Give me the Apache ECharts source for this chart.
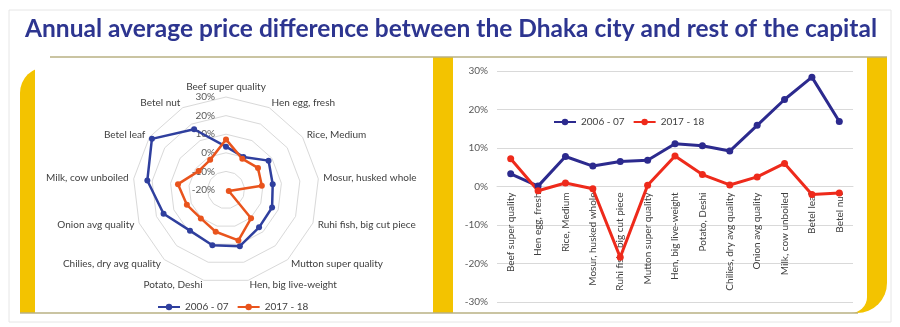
<!DOCTYPE html>
<html><head><meta charset="utf-8">
<script src="https://cdn.jsdelivr.net/npm/echarts@6/dist/echarts.min.js"></script>
<style>html,body{margin:0;padding:0;background:#fff}#c{width:900px;height:327px}</style>
</head><body><div id="c"></div>
<script>
const titleText = 'Annual average price difference between the Dhaka city and rest of the capital';
const categories = ['Beef super quality','Hen egg, fresh','Rice, Medium','Mosur, husked whole','Ruhi fish, big cut piece','Mutton super quality','Hen, big live-weight','Potato, Deshi','Chilies, dry avg quality','Onion avg quality','Milk, cow unboiled','Betel leaf','Betel nut'];
const seriesNames = ['2006 - 07','2017 - 18'];
const values2006 = [3.3,0.1,7.8,5.3,6.5,6.8,11.1,10.6,9.2,15.9,22.6,28.4,16.9];
const values2017 = [7.2,-1.1,0.9,-0.6,-18.4,0.3,7.9,3.1,0.4,2.5,6.0,-2.1,-1.7];
const lineTicks = {min:-30, max:30, step:10};
const radarTicks = {min:-20, max:30, step:10};

const radarColors = ['#2f3f9e','#e9541d'];
const lineColors = ['#2c2a8e','#ee2a1b'];
const yellow = '#f3c300';
const olive = '#b9b183';
const FONT = 'Lato, "Open Sans", sans-serif';

// radar in ECharts runs counter-clockwise; reorder so it reads clockwise like the original
const ord = [0].concat(categories.map((_, i) => i).slice(1).reverse());
const pick = arr => ord.map(i => arr[i]);

const cv = document.createElement('canvas').getContext('2d');
cv.font = 'bold 24px Lato';
const tScale = 852 / cv.measureText(titleText).width;

const legendBase = {itemWidth:22, itemHeight:8, itemGap:8, textStyle:{fontSize:10, color:'#404040', fontFamily:FONT}};

const gridBox = {left:497, width:356, top:71, height:231};
// the category axis sits on the 0% line, like in the original
const zeroOffset = -gridBox.height * (0 - lineTicks.min) / (lineTicks.max - lineTicks.min);

const chart = echarts.init(document.getElementById('c'), null, {renderer:'canvas'});
chart.setOption({
  animation: false,
  textStyle: {fontFamily: FONT},
  graphic: [
    {type:'rect', z:-20, shape:{x:9,y:10,width:882,height:312}, style:{fill:'none', stroke:'#e6e6e6', lineWidth:1}},
    {type:'rect', z:-15, shape:{x:20,y:67,width:40,height:246,r:[26,0,0,0]}, style:{fill:yellow}},
    {type:'rect', z:-15, shape:{x:850,y:57,width:37,height:256,r:[0,0,30,0]}, style:{fill:yellow}},
    {type:'rect', z:-15, shape:{x:433,y:57,width:20,height:256}, style:{fill:yellow}},
    {type:'rect', z:-10, shape:{x:35,y:57,width:398,height:256}, style:{fill:'#fff'}},
    {type:'rect', z:-10, shape:{x:453,y:57,width:414,height:256,r:[0,0,16,0]}, style:{fill:'#fff'}},
    {type:'line', z:-5, shape:{x1:50,y1:57,x2:887,y2:57}, style:{stroke:olive, lineWidth:1.5}},
    {type:'line', z:-5, shape:{x1:20,y1:313,x2:858,y2:313}, style:{stroke:olive, lineWidth:1.5}},
    {type:'text', z:10, x:451, y:29, scaleX:tScale, style:{text:titleText, font:'bold 24px Lato', fill:'#2d3590', align:'center', verticalAlign:'middle'}}
  ],
  legend: [
    Object.assign({left:152, top:297,
     data: seriesNames.map((n,i)=>({name:n, itemStyle:{color:radarColors[i]}, lineStyle:{color:radarColors[i]}}))}, legendBase),
    Object.assign({left:548, top:112,
     data: seriesNames.map((n,i)=>({name:n, itemStyle:{color:lineColors[i]}, lineStyle:{color:lineColors[i]}}))}, legendBase)
  ],
  radar: {
    center:[226,190], radius:93, startAngle:90, splitNumber:(radarTicks.max-radarTicks.min)/radarTicks.step, shape:'polygon',
    indicator: pick(categories).map((n,k)=>({name:n, min:radarTicks.min, max:radarTicks.max,
      axisLabel: k===0 ? {show:true, margin:11} : {show:false}})),
    axisName: {color:'#404040', fontSize:10, fontFamily:FONT},
    nameGap: 5,
    splitLine: {lineStyle:{color:'#d9d9d9', width:1}},
    splitArea: {show:false},
    axisLine: {show:false},
    axisTick: {show:false},
    axisLabel: {show:false, formatter: v => v + '%', color:'#595959', fontSize:10, fontFamily:FONT}
  },
  grid: Object.assign({outerBoundsMode:'none'}, gridBox),
  xAxis: {type:'category', data:categories, boundaryGap:true, position:'bottom', offset:zeroOffset,
    axisLine:{show:true, onZero:false, lineStyle:{color:'#d9d9d9'}}, axisTick:{show:false},
    axisLabel:{rotate:90, interval:0, fontSize:10, color:'#404040', margin:6, fontFamily:FONT}},
  yAxis: {type:'value', min:lineTicks.min, max:lineTicks.max, interval:lineTicks.step,
    axisLine:{show:false}, axisTick:{show:false},
    axisLabel:{formatter:'{value}%', fontSize:10, color:'#595959', margin:9, fontFamily:FONT},
    splitLine:{lineStyle:{color:'#d9d9d9'}}},
  series: [
    {type:'radar', symbol:'circle', symbolSize:6, lineStyle:{width:2.5},
     data:[
       {name:seriesNames[0], value:pick(values2006), itemStyle:{color:radarColors[0]}, lineStyle:{color:radarColors[0], width:2.5}},
       {name:seriesNames[1], value:pick(values2017), itemStyle:{color:radarColors[1]}, lineStyle:{color:radarColors[1], width:2.5}}
     ]},
    {type:'line', name:seriesNames[0], data:values2006, symbol:'circle', symbolSize:7, color:lineColors[0], lineStyle:{width:3}},
    {type:'line', name:seriesNames[1], data:values2017, symbol:'circle', symbolSize:7, color:lineColors[1], lineStyle:{width:3}}
  ]
});
</script></body></html>
